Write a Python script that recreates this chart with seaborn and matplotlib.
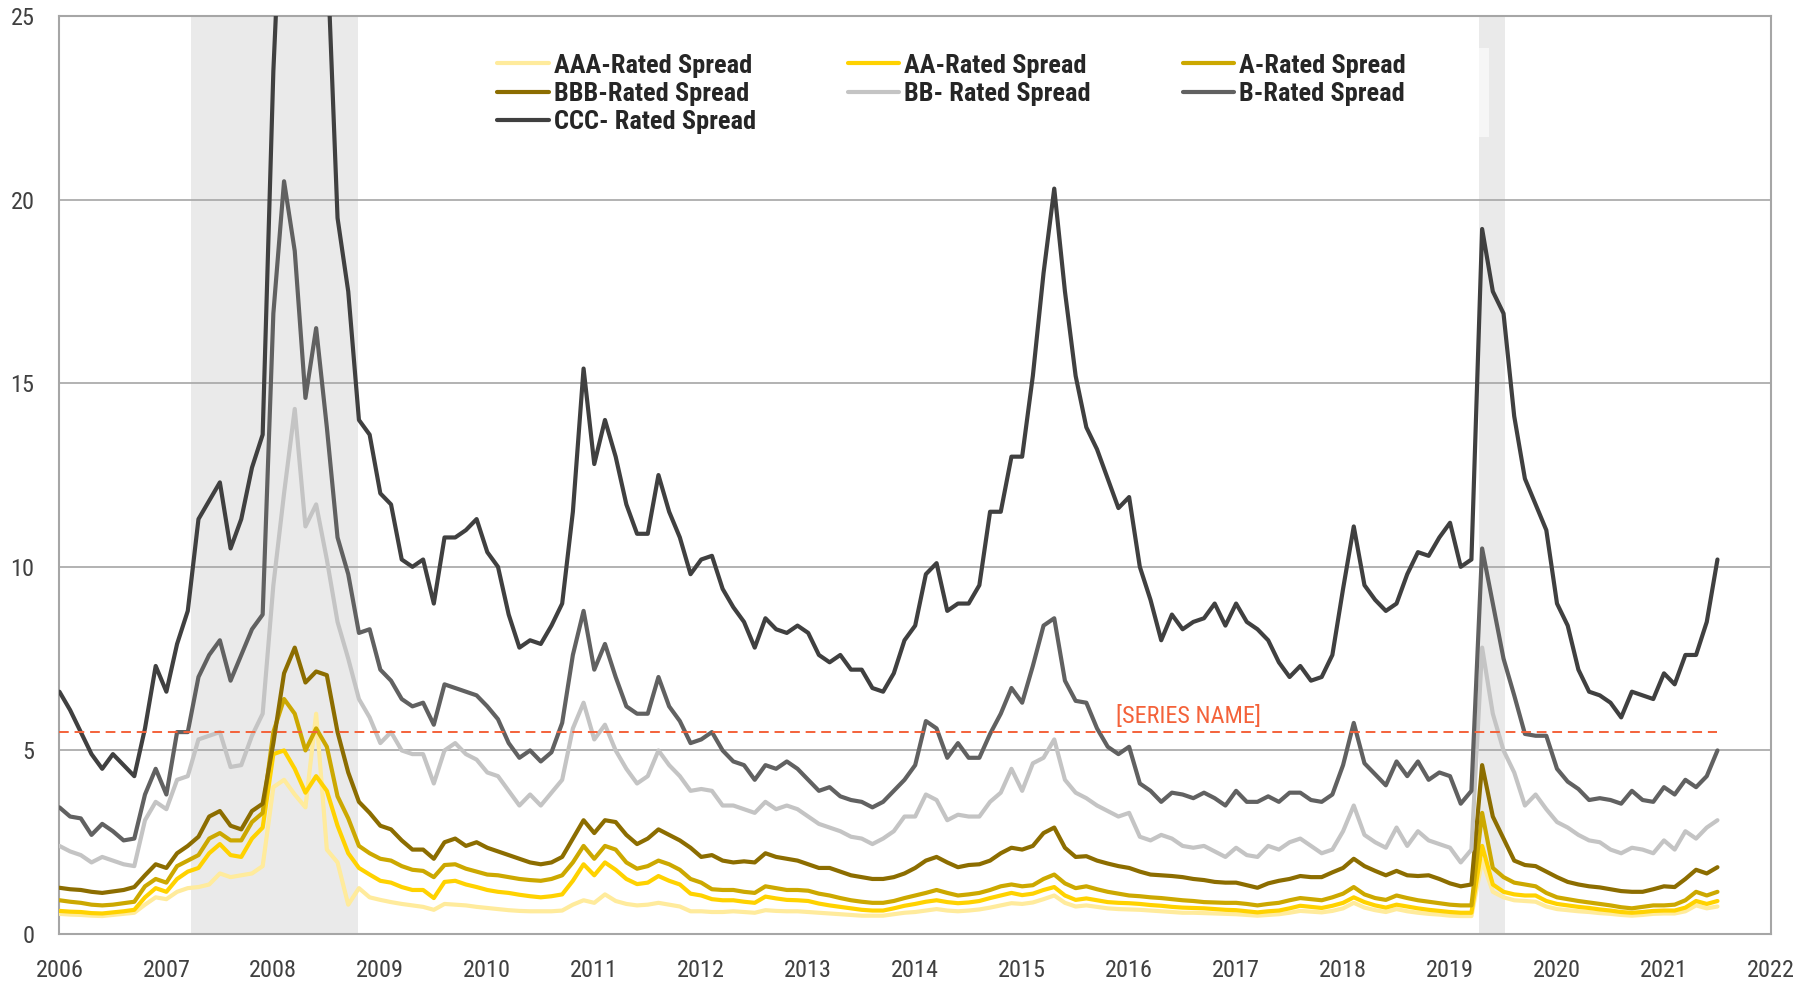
import numpy as np
import pandas as pd
import seaborn as sns
import matplotlib
from matplotlib import pyplot as plt
from matplotlib import font_manager as fm
from matplotlib.patches import Rectangle

# decimal years, one point every 0.1 year
years = np.round(np.arange(2006.0, 2021.55, 0.1), 1)

ccc = [6.6, 6.1, 5.5, 4.9, 4.5, 4.9, 4.6, 4.3, 5.6, 7.3,
       6.6, 7.9, 8.8, 11.3, 11.8, 12.3, 10.5, 11.3, 12.7, 13.6,
       23.5, 30.0, 31.0, 30.0, 29.0, 27.0, 19.5, 17.5, 14.0, 13.6,
       12.0, 11.7, 10.2, 10.0, 10.2, 9.0, 10.8, 10.8, 11.0, 11.3,
       10.4, 10.0, 8.7, 7.8, 8.0, 7.9, 8.4, 9.0, 11.5, 15.4,
       12.8, 14.0, 13.0, 11.7, 10.9, 10.9, 12.5, 11.5, 10.8, 9.8,
       10.2, 10.3, 9.4, 8.9, 8.5, 7.8, 8.6, 8.3, 8.2, 8.4,
       8.2, 7.6, 7.4, 7.6, 7.2, 7.2, 6.7, 6.6, 7.1, 8.0,
       8.4, 9.8, 10.1, 8.8, 9.0, 9.0, 9.5, 11.5, 11.5, 13.0,
       13.0, 15.2, 18.0, 20.3, 17.5, 15.2, 13.8, 13.2, 12.4, 11.6,
       11.9, 10.0, 9.1, 8.0, 8.7, 8.3, 8.5, 8.6, 9.0, 8.4,
       9.0, 8.5, 8.3, 8.0, 7.4, 7.0, 7.3, 6.9, 7.0, 7.6,
       9.4, 11.1, 9.5, 9.1, 8.8, 9.0, 9.8, 10.4, 10.3, 10.8,
       11.2, 10.0, 10.2, 19.2, 17.5, 16.9, 14.1, 12.4, 11.7, 11.0,
       9.0, 8.4, 7.2, 6.6, 6.5, 6.3, 5.9, 6.6, 6.5, 6.4,
       7.1, 6.8, 7.6, 7.6, 8.5, 10.2]

b_rated = [3.45, 3.2, 3.15, 2.7, 3.0, 2.8, 2.55, 2.6, 3.8, 4.5,
           3.8, 5.5, 5.5, 7.0, 7.6, 8.0, 6.9, 7.6, 8.3, 8.7,
           16.9, 20.5, 18.6, 14.6, 16.5, 13.8, 10.8, 9.8, 8.2, 8.3,
           7.2, 6.9, 6.4, 6.2, 6.3, 5.7, 6.8, 6.7, 6.6, 6.5,
           6.2, 5.85, 5.2, 4.8, 5.0, 4.7, 4.95, 5.75, 7.6, 8.8,
           7.2, 7.9, 7.0, 6.2, 6.0, 6.0, 7.0, 6.2, 5.8, 5.2,
           5.3, 5.5, 5.0, 4.7, 4.6, 4.2, 4.6, 4.5, 4.7, 4.5,
           4.2, 3.9, 4.0, 3.75, 3.65, 3.6, 3.45, 3.6, 3.9, 4.2,
           4.6, 5.8, 5.6, 4.8, 5.2, 4.8, 4.8, 5.45, 6.0, 6.7,
           6.3, 7.3, 8.4, 8.6, 6.9, 6.35, 6.3, 5.6, 5.1, 4.9,
           5.1, 4.1, 3.9, 3.6, 3.85, 3.8, 3.7, 3.85, 3.7, 3.5,
           3.9, 3.6, 3.6, 3.75, 3.6, 3.85, 3.85, 3.65, 3.6, 3.8,
           4.6, 5.75, 4.65, 4.35, 4.05, 4.7, 4.3, 4.7, 4.2, 4.4,
           4.3, 3.55, 3.9, 10.5, 9.0, 7.5, 6.5, 5.45, 5.4, 5.4,
           4.5, 4.15, 3.95, 3.65, 3.7, 3.65, 3.55, 3.9, 3.65, 3.6,
           4.0, 3.8, 4.2, 4.0, 4.3, 5.0]

bb = [2.4, 2.25, 2.15, 1.95, 2.1, 2.0, 1.9, 1.85, 3.1, 3.6,
      3.4, 4.2, 4.3, 5.3, 5.4, 5.5, 4.55, 4.6, 5.4, 6.0,
      9.5, 12.0, 14.3, 11.1, 11.7, 10.2, 8.5, 7.5, 6.4, 5.9,
      5.2, 5.5, 5.0, 4.9, 4.9, 4.1, 5.0, 5.2, 4.9, 4.75,
      4.4, 4.3, 3.9, 3.5, 3.8, 3.5, 3.85, 4.2, 5.6, 6.3,
      5.3, 5.7, 5.0, 4.5, 4.1, 4.3, 5.0, 4.6, 4.3, 3.9,
      3.95, 3.9, 3.5, 3.5, 3.4, 3.3, 3.6, 3.4, 3.5, 3.4,
      3.2, 3.0, 2.9, 2.8, 2.65, 2.6, 2.45, 2.6, 2.8, 3.2,
      3.2, 3.8, 3.65, 3.1, 3.25, 3.2, 3.2, 3.6, 3.85, 4.5,
      3.9, 4.65, 4.8, 5.3, 4.2, 3.85, 3.7, 3.5, 3.35, 3.2,
      3.3, 2.65, 2.55, 2.7, 2.6, 2.4, 2.35, 2.4, 2.25, 2.1,
      2.35, 2.15, 2.1, 2.4, 2.3, 2.5, 2.6, 2.4, 2.2, 2.3,
      2.8, 3.5, 2.7, 2.5, 2.35, 2.9, 2.4, 2.8, 2.55, 2.45,
      2.35, 1.95, 2.3, 7.8, 6.0, 5.0, 4.4, 3.5, 3.8, 3.4,
      3.05, 2.9, 2.7, 2.55, 2.5, 2.3, 2.2, 2.35, 2.3, 2.2,
      2.55, 2.3, 2.8, 2.6, 2.9, 3.1]

bbb = [1.26, 1.22, 1.2, 1.15, 1.12, 1.16, 1.2, 1.28, 1.6, 1.9,
       1.8, 2.2, 2.4, 2.65, 3.2, 3.35, 2.95, 2.85, 3.35, 3.55,
       5.2, 7.1, 7.8, 6.85, 7.15, 7.05, 5.5, 4.4, 3.6, 3.3,
       2.95, 2.85, 2.55, 2.3, 2.3, 2.05, 2.5, 2.6, 2.4, 2.5,
       2.35, 2.25, 2.15, 2.05, 1.95, 1.9, 1.95, 2.1, 2.6, 3.1,
       2.75, 3.1, 3.05, 2.7, 2.45, 2.6, 2.85, 2.7, 2.55, 2.35,
       2.1, 2.15, 2.0, 1.95, 1.98, 1.95, 2.2, 2.1, 2.05, 2.0,
       1.9, 1.8, 1.8, 1.7, 1.6, 1.55, 1.5, 1.5, 1.55, 1.65,
       1.8, 2.0, 2.1, 1.95, 1.82, 1.88, 1.9, 2.0, 2.2, 2.35,
       2.3, 2.4, 2.75, 2.9, 2.35, 2.1, 2.12, 2.0, 1.92, 1.85,
       1.8, 1.7, 1.62, 1.6, 1.58, 1.55, 1.5, 1.47, 1.42, 1.4,
       1.4, 1.33, 1.26, 1.38, 1.45, 1.5, 1.58, 1.55, 1.55, 1.68,
       1.8, 2.05, 1.85, 1.72, 1.6, 1.72, 1.6, 1.58, 1.6, 1.5,
       1.38, 1.3, 1.35, 4.6, 3.2, 2.6, 2.0, 1.88, 1.85, 1.7,
       1.55, 1.42, 1.35, 1.3, 1.27, 1.22, 1.17, 1.15, 1.15, 1.22,
       1.3, 1.28, 1.5, 1.75, 1.65, 1.82]

a_rated = [0.92, 0.88, 0.85, 0.8, 0.78, 0.8, 0.84, 0.88, 1.3, 1.5,
           1.4, 1.85, 2.0, 2.15, 2.6, 2.75, 2.55, 2.55, 3.05, 3.3,
           5.5, 6.4, 6.0, 5.0, 5.6, 5.1, 3.75, 3.15, 2.4, 2.2,
           2.05, 2.0, 1.85, 1.75, 1.72, 1.55, 1.88, 1.9, 1.78, 1.7,
           1.62, 1.6, 1.55, 1.5, 1.47, 1.45, 1.5, 1.6, 1.95, 2.4,
           2.05, 2.4, 2.3, 1.95, 1.78, 1.85, 2.0, 1.9, 1.75, 1.5,
           1.4, 1.22, 1.2, 1.2, 1.15, 1.12, 1.3, 1.25, 1.2, 1.2,
           1.18, 1.1, 1.05, 0.98, 0.92, 0.88, 0.85, 0.85, 0.9, 0.98,
           1.05, 1.12, 1.2, 1.12, 1.05, 1.08, 1.12, 1.2, 1.3, 1.35,
           1.3, 1.33, 1.5, 1.62, 1.38, 1.25, 1.3, 1.22, 1.15, 1.1,
           1.05, 1.03, 1.0, 0.98, 0.95, 0.92, 0.9, 0.87, 0.86, 0.85,
           0.85, 0.82, 0.78, 0.82, 0.85, 0.92, 0.98, 0.95, 0.92, 1.0,
           1.1, 1.28, 1.08, 0.98, 0.93, 1.05, 0.98, 0.92, 0.88, 0.84,
           0.8, 0.78, 0.78, 3.3, 1.8, 1.55, 1.4, 1.35, 1.3, 1.12,
           1.0, 0.95, 0.9, 0.86, 0.82, 0.78, 0.73, 0.7, 0.74, 0.78,
           0.78, 0.8, 0.92, 1.15, 1.05, 1.15]

aa = [0.63, 0.61, 0.6, 0.57, 0.56, 0.59, 0.62, 0.66, 1.0, 1.25,
      1.15, 1.5, 1.7, 1.8, 2.2, 2.45, 2.15, 2.1, 2.6, 2.9,
      4.9, 5.0, 4.5, 3.85, 4.3, 3.9, 2.95, 2.2, 1.8, 1.62,
      1.45, 1.4, 1.28, 1.2, 1.2, 0.98, 1.42, 1.45, 1.35, 1.28,
      1.2, 1.15, 1.12, 1.07, 1.03, 1.0, 1.03, 1.08, 1.45, 1.9,
      1.6, 1.95, 1.75, 1.5, 1.36, 1.4, 1.58, 1.45, 1.35, 1.1,
      1.05, 0.95, 0.92, 0.92, 0.88, 0.85, 1.02, 0.97, 0.93, 0.92,
      0.9, 0.83, 0.78, 0.74, 0.7, 0.66, 0.64, 0.64, 0.7, 0.77,
      0.82, 0.88, 0.92, 0.87, 0.84, 0.86, 0.9, 0.98, 1.05, 1.12,
      1.06, 1.1, 1.2, 1.28, 1.05, 0.93, 0.97, 0.92, 0.87, 0.85,
      0.84, 0.82, 0.79, 0.77, 0.74, 0.72, 0.71, 0.7, 0.68, 0.66,
      0.65, 0.62, 0.59, 0.62, 0.64, 0.7, 0.77, 0.74, 0.71, 0.77,
      0.85, 1.0, 0.87, 0.78, 0.72, 0.8, 0.75, 0.7, 0.66, 0.63,
      0.6, 0.58, 0.58, 2.4, 1.35, 1.15, 1.08, 1.05, 1.05, 0.9,
      0.82, 0.78, 0.74, 0.71, 0.67, 0.64, 0.6, 0.58, 0.6, 0.63,
      0.64, 0.64, 0.72, 0.9, 0.82, 0.9]

aaa = [0.55, 0.53, 0.52, 0.5, 0.49, 0.52, 0.55, 0.58, 0.8, 1.0,
       0.95, 1.15, 1.25, 1.28, 1.35, 1.65, 1.55, 1.6, 1.65, 1.85,
       4.0, 4.2, 3.8, 3.45, 6.0, 2.3, 1.95, 0.8, 1.25, 1.0,
       0.93, 0.87, 0.82, 0.78, 0.74, 0.66, 0.82, 0.8, 0.78, 0.74,
       0.71, 0.68, 0.65, 0.63, 0.62, 0.62, 0.62, 0.64, 0.8, 0.92,
       0.85, 1.08, 0.9, 0.82, 0.78, 0.8, 0.85, 0.8, 0.75, 0.62,
       0.62, 0.6, 0.6, 0.62, 0.6, 0.58, 0.65, 0.63, 0.62, 0.62,
       0.6, 0.58, 0.56, 0.54, 0.52, 0.5, 0.5, 0.5, 0.54, 0.58,
       0.6, 0.64, 0.68, 0.64, 0.62, 0.64, 0.67, 0.72, 0.78, 0.84,
       0.82, 0.86, 0.95, 1.05, 0.85, 0.75, 0.78, 0.74, 0.7, 0.68,
       0.67, 0.66, 0.64, 0.62, 0.6, 0.58, 0.58, 0.57, 0.56, 0.55,
       0.54, 0.52, 0.5, 0.52, 0.54, 0.58, 0.63, 0.61, 0.59, 0.63,
       0.7, 0.85, 0.72, 0.65, 0.6, 0.68, 0.62, 0.58, 0.55, 0.53,
       0.5, 0.49, 0.49, 2.0, 1.15, 1.0, 0.92, 0.9, 0.88, 0.75,
       0.68, 0.65, 0.62, 0.6, 0.57, 0.55, 0.52, 0.5, 0.52, 0.55,
       0.56, 0.56, 0.62, 0.78, 0.7, 0.75]

series_names = ['AAA-Rated Spread', 'AA-Rated Spread', 'A-Rated Spread',
                'BBB-Rated Spread', 'BB- Rated Spread', 'B-Rated Spread',
                'CCC- Rated Spread']
series_values = [aaa, aa, a_rated, bbb, bb, b_rated, ccc]
series_colors = ['#FFEB9C', '#FFD200', '#CCA800', '#8C6D00',
                 '#C4C4C4', '#616161', '#404040']

# recession bands (start, end) in decimal years
bands = [(2007.23, 2008.79), (2019.27, 2019.51)]
threshold = 5.5
threshold_label = '[SERIES NAME]'

# pick a narrow sans that is installed
installed = {f.name for f in fm.fontManager.ttflist}
narrow = 'DejaVu Sans'
for cand in ['Liberation Sans Narrow', 'Arial Narrow', 'Roboto Condensed',
             'Archivo Narrow', 'PT Sans Narrow', 'IBM Plex Sans Condensed']:
    if cand in installed:
        narrow = cand
        break

sns.set_style('white')
plt.rcParams['font.family'] = [narrow, 'DejaVu Sans']

fig = plt.figure(figsize=(17.95, 9.83), dpi=100)
ax = fig.add_axes([0.0331, 0.0498, 0.9535, 0.9339])

for start, end in bands:
    ax.axvspan(start, end, color='#EAEAEA', zorder=0.5, lw=0)

for y in range(5, 26, 5):
    ax.axhline(y, color='#A6A6A6', lw=1.2, zorder=1)

for name, vals, col in zip(series_names, series_values, series_colors):
    sns.lineplot(x=years, y=vals, ax=ax, color=col, linewidth=3.0,
                 label=name, zorder=3)

ax.hlines(threshold, years[0], years[-1], colors='#F4623A', lw=1.4,
          linestyles=(0, (5, 3)), zorder=4)
ax.text(2015.88, threshold + 0.12, threshold_label, color='#F4623A',
        fontsize=17.5, va='bottom', ha='left')

# faint legend backdrop
ax.add_patch(Rectangle((0.245, 0.868), 0.59, 0.097, transform=ax.transAxes,
                       facecolor='white', alpha=0.6, lw=0, zorder=2))

ax.set_xlim(2006, 2022)
ax.set_ylim(0, 25)
ax.set_xticks(range(2006, 2023))
ax.set_yticks(range(0, 26, 5))
ax.tick_params(length=0, labelsize=17.5, colors='#404040')
ax.tick_params(axis='y', pad=18)
ax.tick_params(axis='x', pad=18)
ax.set_xlabel('')
ax.set_ylabel('')
for s in ax.spines.values():
    s.set_visible(True)
    s.set_color('#A6A6A6')
    s.set_linewidth(1.5)

handles, labels = ax.get_legend_handles_labels()
order = [0, 3, 6, 1, 4, 2, 5]
ax.legend([handles[i] for i in order], [labels[i] for i in order],
          ncol=3, loc='upper left', bbox_to_anchor=(0.2419, 0.985),
          frameon=False, handlelength=1.95, handletextpad=0.2,
          columnspacing=3.47, labelspacing=0.16,
          prop={'weight': 'bold', 'size': 19})

fig.savefig('out.png', dpi=100)
